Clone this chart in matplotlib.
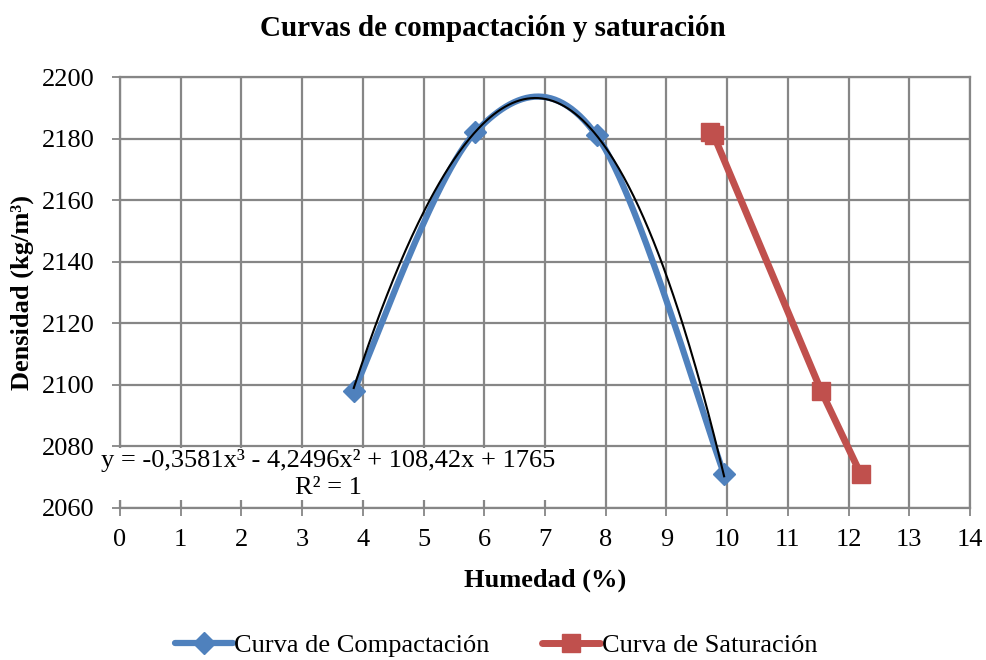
import numpy as np
import matplotlib
matplotlib.use("Agg")
import matplotlib.pyplot as plt
from matplotlib.lines import Line2D

plt.rcParams['font.family'] = ['Liberation Serif', 'DejaVu Serif']

# Compaction curve (moisture %, dry density kg/m3)
hum_comp = [3.85, 5.85, 7.85, 9.95]
dens_comp = [2098, 2182, 2181, 2071]

# Saturation curve
hum_sat = [9.72, 9.78, 11.55, 12.2]
dens_sat = [2182, 2181, 2098, 2071]

# Cubic trendline coefficients (highest power first)
trend_coef = [-0.3581, -4.2496, 108.42, 1765]
trend_label = "y = -0,3581x³ - 4,2496x² + 108,42x + 1765\nR² = 1"

x_ticks = list(range(0, 15))
y_ticks = list(range(2060, 2201, 20))

BLUE = '#4F81BD'
RED = '#C0504D'
GRID = '#868686'

W, H = 987, 660
fig = plt.figure(figsize=(W / 100, H / 100), dpi=100)
ax = fig.add_axes([120 / W, 1 - 508 / H, 850 / W, 431 / H])
ax.set_xlim(0, 14)
ax.set_ylim(2060, 2200)
ax.set_xticks(x_ticks)
ax.set_yticks(y_ticks)
ax.grid(True, color=GRID, lw=1.6, zorder=0)
ax.set_axisbelow(True)
for s in ax.spines.values():
    s.set_color(GRID)
    s.set_linewidth(1.6)
ax.tick_params(axis='both', colors=GRID, labelcolor='black', labelsize=19,
               length=6, width=1.3, direction='out')
ax.tick_params(axis='x', pad=9)
ax.tick_params(axis='y', pad=12)


def smooth(xs, ys, n=60):
    """Bezier smoothing in display space (Catmull-Rom style, tension 1/6)."""
    pts = ax.transData.transform(np.column_stack([xs, ys]))
    out = []
    m = len(pts)
    for i in range(m - 1):
        p0 = pts[max(i - 1, 0)]
        p1 = pts[i]
        p2 = pts[i + 1]
        p3 = pts[min(i + 2, m - 1)]
        c1 = p1 + (p2 - p0) / 6.0
        c2 = p2 - (p3 - p1) / 6.0
        t = np.linspace(0, 1, n)[:, None]
        seg = ((1 - t) ** 3) * p1 + 3 * ((1 - t) ** 2) * t * c1 + 3 * (1 - t) * t ** 2 * c2 + t ** 3 * p2
        out.append(seg if i == 0 else seg[1:])
    out = np.vstack(out)
    return ax.transData.inverted().transform(out)


curve = smooth(hum_comp, dens_comp)
ax.plot(curve[:, 0], curve[:, 1], color=BLUE, lw=4.5, solid_capstyle='round', zorder=3)
ax.plot(hum_comp, dens_comp, ls='none', marker='D', ms=11, color=BLUE, zorder=4)

xt = np.linspace(min(hum_comp), max(hum_comp), 300)
ax.plot(xt, np.polyval(trend_coef, xt), color='black', lw=1.5, zorder=5)

ax.plot(hum_sat, dens_sat, color=RED, lw=5, marker='s', ms=13, zorder=3)

fig.text(328 / W, 1 - 474 / H, trend_label, ha='center', va='center', fontsize=19,
         linespacing=1.25, zorder=10,
         bbox=dict(facecolor='white', edgecolor='none', pad=1))

fig.text(493 / W, 1 - 29 / H, "Curvas de compactación y saturación", ha='center',
         va='center', fontsize=21, fontweight='bold')
ax.set_xlabel("Humedad (%)", fontsize=19, fontweight='bold', labelpad=13)
ax.set_ylabel("Densidad (kg/m³)", fontsize=19, fontweight='bold', labelpad=6)

handles = [
    Line2D([], [], color=BLUE, lw=4.5, marker='D', ms=11, solid_capstyle='round'),
    Line2D([], [], color=RED, lw=5, marker='s', ms=13, solid_capstyle='round'),
]
fig.legend(handles, ["Curva de Compactación", "Curva de Saturación"],
           loc='center', bbox_to_anchor=(496 / W, 1 - 645 / H), ncol=2,
           frameon=False, fontsize=19, handlelength=2.2, handletextpad=0.05,
           columnspacing=2.0)

fig.savefig("out.png", dpi=100)
